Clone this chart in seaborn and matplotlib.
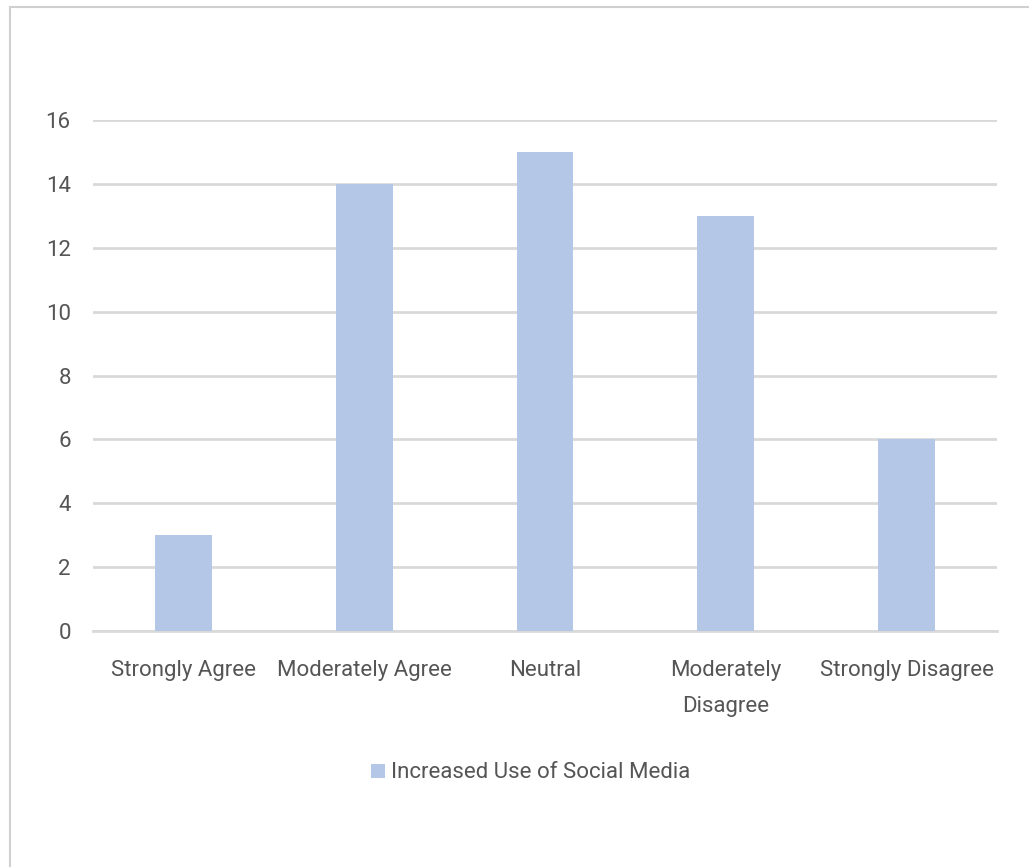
import matplotlib
matplotlib.use("Agg")
import matplotlib.pyplot as plt
from matplotlib.patches import Rectangle
import seaborn as sns
import pandas as pd

categories = ["Strongly Agree", "Moderately Agree", "Neutral",
              "Moderately\nDisagree", "Strongly Disagree"]
values = [3, 14, 15, 13, 6]
series_name = "Increased Use of Social Media"
y_ticks = [0, 2, 4, 6, 8, 10, 12, 14, 16]

sns.set_theme(style="white")
plt.rcParams["font.family"] = ["Roboto", "DejaVu Sans"]

bar_color = "#b4c7e7"
text_color = "#555555"
grid_color = "#d9d9d9"

fig = plt.figure(figsize=(10.29, 8.67), dpi=100)
fig.patch.set_facecolor("white")

# light frame around the chart area
fig.patches.append(Rectangle((10 / 1029, -0.05), 1.1, 1 - 7 / 867 + 0.05,
                             transform=fig.transFigure, fill=False,
                             edgecolor="#d0d0d0", linewidth=1.5))

ax = fig.add_axes([93 / 1029, 1 - 631 / 867, 904 / 1029, 511 / 867])
df = pd.DataFrame({"category": categories, "value": values})
sns.barplot(data=df, x="category", y="value", color=bar_color,
            width=0.315, saturation=1, linewidth=0, ax=ax,
            label=series_name, zorder=3)
handles, labels = ax.get_legend_handles_labels()
if ax.get_legend() is not None:
    ax.get_legend().remove()

ax.set_ylim(0, 16)
ax.set_xlim(-0.5, len(categories) - 0.5)
ax.set_yticks(y_ticks)
ax.yaxis.grid(True, color=grid_color, linewidth=2, zorder=0)
ax.set_axisbelow(True)
for side in ["top", "right", "left"]:
    ax.spines[side].set_visible(False)
ax.spines["bottom"].set_color(grid_color)
ax.spines["bottom"].set_linewidth(2)
ax.set_xlabel("")
ax.set_ylabel("")
ax.tick_params(axis="both", length=0, labelsize=16, colors=text_color)
ax.tick_params(axis="y", pad=16)
ax.tick_params(axis="x", pad=21)
for lbl in ax.get_xticklabels():
    lbl.set_linespacing(1.95)

fig.legend(handles, labels, loc="center", bbox_to_anchor=(0.516, 1 - 773 / 867),
           frameon=False, fontsize=16, labelcolor=text_color,
           handlelength=0.6, handleheight=0.6, handletextpad=0.3)

fig.savefig("out.png", dpi=100)
